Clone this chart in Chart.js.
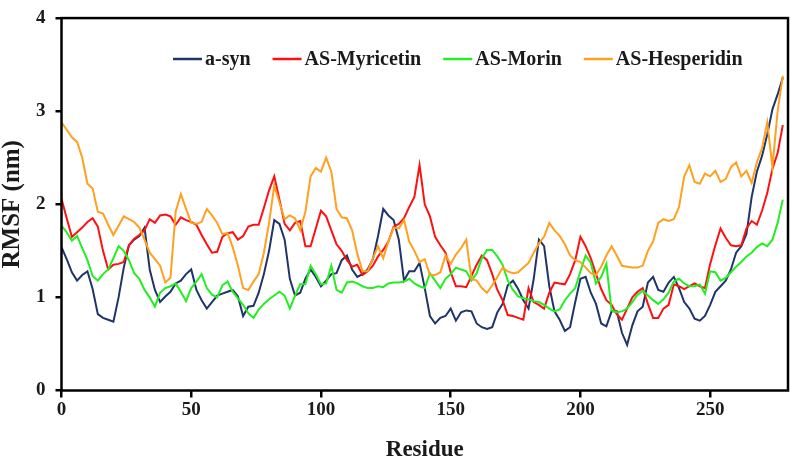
<!DOCTYPE html>
<html lang="en">
<head>
<meta charset="UTF-8">
<title>RMSF per residue</title>
<script src="https://cdn.jsdelivr.net/npm/chart.js"></script>
<style>
  html, body { margin: 0; padding: 0; background: #fff; }
  canvas { display: block; }
</style>
</head>
<body>
<canvas id="rmsfChart" width="790" height="462"></canvas>
<script>
// residue numbers (every 2nd residue)
const residues = [
  0, 2, 4, 6, 8, 10, 12, 14, 16, 18, 20, 22, 24, 26, 28, 30, 32, 34, 36, 38,
  40, 42, 44, 46, 48, 50, 52, 54, 56, 58, 60, 62, 64, 66, 68, 70, 72, 74, 76, 78,
  80, 82, 84, 86, 88, 90, 92, 94, 96, 98, 100, 102, 104, 106, 108, 110, 112, 114, 116, 118,
  120, 122, 124, 126, 128, 130, 132, 134, 136, 138, 140, 142, 144, 146, 148, 150, 152, 154, 156, 158,
  160, 162, 164, 166, 168, 170, 172, 174, 176, 178, 180, 182, 184, 186, 188, 190, 192, 194, 196, 198,
  200, 202, 204, 206, 208, 210, 212, 214, 216, 218, 220, 222, 224, 226, 228, 230, 232, 234, 236, 238,
  240, 242, 244, 246, 248, 250, 252, 254, 256, 258, 260, 262, 264, 266, 268, 270, 272, 274, 276, 278
];

// RMSF (nm)
const asyn = [
  1.54, 1.41, 1.27, 1.18, 1.24, 1.28, 1.09, 0.82, 0.78, 0.76,
  0.74, 1.00, 1.32, 1.56, 1.62, 1.66, 1.75, 1.30, 1.08, 0.95,
  1.01, 1.06, 1.15, 1.18, 1.25, 1.30, 1.08, 0.97, 0.88, 0.95,
  1.02, 1.04, 1.06, 1.08, 1.01, 0.80, 0.90, 0.91, 1.05, 1.25,
  1.50, 1.83, 1.79, 1.62, 1.20, 1.02, 1.05, 1.20, 1.30, 1.22,
  1.12, 1.18, 1.25, 1.26, 1.40, 1.45, 1.30, 1.22, 1.25, 1.30,
  1.41, 1.66, 1.95, 1.88, 1.83, 1.62, 1.18, 1.28, 1.28, 1.37,
  1.10, 0.80, 0.72, 0.78, 0.80, 0.88, 0.75, 0.84, 0.86, 0.85,
  0.72, 0.68, 0.66, 0.68, 0.84, 0.93, 1.13, 1.18, 1.09, 0.97,
  0.88, 1.20, 1.62, 1.55, 1.12, 0.85, 0.76, 0.64, 0.68, 0.95,
  1.20, 1.22, 1.05, 0.93, 0.72, 0.69, 0.85, 0.85, 0.62, 0.49,
  0.70, 0.85, 0.90, 1.16, 1.22, 1.08, 1.06, 1.16, 1.22, 1.10,
  0.95, 0.88, 0.77, 0.75, 0.80, 0.92, 1.06, 1.12, 1.18, 1.30,
  1.48, 1.55, 1.68, 2.08, 2.35, 2.52, 2.75, 3.02, 3.18, 3.36
];
const myricetin = [
  2.06, 1.85, 1.65, 1.70, 1.75, 1.81, 1.85, 1.76, 1.50, 1.30,
  1.35, 1.36, 1.38, 1.56, 1.63, 1.67, 1.72, 1.84, 1.80, 1.88,
  1.89, 1.87, 1.78, 1.86, 1.83, 1.81, 1.78, 1.67, 1.57, 1.48,
  1.49, 1.65, 1.69, 1.70, 1.62, 1.66, 1.76, 1.78, 1.78, 1.96,
  2.15, 2.30, 2.05, 1.79, 1.72, 1.80, 1.82, 1.55, 1.55, 1.74,
  1.93, 1.87, 1.72, 1.57, 1.50, 1.40, 1.33, 1.35, 1.24, 1.28,
  1.34, 1.44, 1.51, 1.60, 1.76, 1.79, 1.85, 1.97, 2.08, 2.42,
  2.00, 1.87, 1.65, 1.56, 1.48, 1.27, 1.12, 1.12, 1.11, 1.23,
  1.35, 1.45, 1.40, 1.25, 1.08, 0.97, 0.81, 0.80, 0.78, 0.76,
  1.10, 0.95, 0.92, 0.88, 1.05, 1.16, 1.15, 1.14, 1.25, 1.40,
  1.65, 1.55, 1.42, 1.25, 1.09, 0.97, 0.92, 0.82, 0.76, 0.88,
  1.00, 1.06, 1.10, 0.93, 0.78, 0.78, 0.88, 0.92, 1.14, 1.12,
  1.09, 1.12, 1.15, 1.12, 1.10, 1.36, 1.56, 1.74, 1.64, 1.56,
  1.55, 1.56, 1.74, 1.82, 1.78, 1.93, 2.12, 2.38, 2.55, 2.85
];
const morin = [
  1.77, 1.70, 1.61, 1.66, 1.53, 1.40, 1.23, 1.18, 1.25, 1.30,
  1.42, 1.55, 1.50, 1.40, 1.26, 1.20, 1.08, 1.00, 0.90, 1.05,
  1.10, 1.12, 1.15, 1.06, 0.96, 1.10, 1.17, 1.25, 1.10, 1.03,
  1.00, 1.13, 1.17, 1.06, 0.99, 0.92, 0.83, 0.78, 0.87, 0.93,
  0.98, 1.02, 1.06, 1.02, 0.88, 1.02, 1.14, 1.14, 1.34, 1.25,
  1.14, 1.15, 1.34, 1.08, 1.05, 1.16, 1.17, 1.15, 1.12, 1.10,
  1.10, 1.12, 1.11, 1.15, 1.16, 1.16, 1.17, 1.20, 1.15, 1.12,
  1.10, 1.26, 1.18, 1.10, 1.20, 1.25, 1.32, 1.30, 1.28, 1.18,
  1.26, 1.42, 1.51, 1.51, 1.44, 1.35, 1.18, 1.08, 1.01, 0.99,
  0.98, 0.96, 0.95, 0.92, 0.88, 0.85, 0.87, 0.97, 1.04, 1.10,
  1.28, 1.45, 1.37, 1.15, 1.22, 1.36, 0.86, 0.84, 0.85, 0.88,
  0.95, 1.03, 1.07, 1.02, 0.97, 0.93, 0.98, 1.05, 1.17, 1.20,
  1.15, 1.12, 1.12, 1.14, 1.04, 1.28, 1.27, 1.18, 1.21, 1.27,
  1.33, 1.38, 1.44, 1.48, 1.54, 1.58, 1.55, 1.62, 1.80, 2.05
];
const hesperidin = [
  2.88, 2.80, 2.72, 2.67, 2.50, 2.22, 2.17, 1.92, 1.90, 1.78,
  1.67, 1.77, 1.87, 1.84, 1.81, 1.75, 1.62, 1.48, 1.41, 1.34,
  1.16, 1.21, 1.92, 2.11, 1.95, 1.80, 1.79, 1.81, 1.95, 1.88,
  1.80, 1.68, 1.69, 1.54, 1.34, 1.10, 1.08, 1.17, 1.25, 1.48,
  1.80, 2.20, 2.02, 1.84, 1.88, 1.85, 1.72, 1.92, 2.30, 2.39,
  2.35, 2.50, 2.35, 1.95, 1.86, 1.85, 1.72, 1.47, 1.28, 1.28,
  1.42, 1.55, 1.42, 1.60, 1.75, 1.74, 1.83, 1.60, 1.50, 1.38,
  1.41, 1.24, 1.24, 1.27, 1.45, 1.36, 1.46, 1.53, 1.62, 1.20,
  1.18, 1.10, 1.05, 1.13, 1.22, 1.32, 1.28, 1.26, 1.27, 1.32,
  1.37, 1.48, 1.58, 1.65, 1.80, 1.72, 1.66, 1.57, 1.45, 1.40,
  1.38, 1.32, 1.26, 1.24, 1.33, 1.45, 1.55, 1.45, 1.34, 1.33,
  1.32, 1.32, 1.34, 1.50, 1.60, 1.80, 1.84, 1.82, 1.84, 1.97,
  2.30, 2.42, 2.24, 2.22, 2.33, 2.30, 2.36, 2.24, 2.27, 2.40,
  2.45, 2.30, 2.36, 2.23, 2.45, 2.60, 2.88, 2.40, 3.00, 3.38
];

const seriesNames = ['a-syn', 'AS-Myricetin', 'AS-Morin', 'AS-Hesperidin'];
const seriesColors = ['#1f3468', '#ff1010', '#22ee22', '#ffa020'];
const seriesValues = [asyn, myricetin, morin, hesperidin];

const serif = '"Liberation Serif", "Times New Roman", serif';

function toPoints(vals) {
  return vals.map((v, i) => ({ x: residues[i], y: v }));
}

// legend sits inside the plot, top left
const insideLegend = {
  id: 'insideLegend',
  afterDraw(chart) {
    const ctx = chart.ctx;
    ctx.save();
    ctx.font = 'bold 20px ' + serif;
    ctx.textBaseline = 'middle';
    let x = 173;
    const y = 59;
    seriesNames.forEach((name, i) => {
      ctx.strokeStyle = seriesColors[i];
      ctx.lineWidth = 2.5;
      ctx.beginPath();
      ctx.moveTo(x, y);
      ctx.lineTo(x + 29, y);
      ctx.stroke();
      x += 32;
      ctx.fillStyle = '#1a1a1a';
      ctx.fillText(name, x, y + 1);
      x += ctx.measureText(name).width + 22;
    });
    ctx.restore();
  }
};

// black box round the plot
const plotFrame = {
  id: 'plotFrame',
  afterDatasetsDraw(chart) {
    const a = chart.chartArea;
    const ctx = chart.ctx;
    ctx.save();
    ctx.strokeStyle = '#000';
    ctx.lineWidth = 2.5;
    ctx.strokeRect(a.left, a.top, a.right - a.left, a.bottom - a.top);
    ctx.restore();
  }
};

const ctx = document.getElementById('rmsfChart').getContext('2d');
new Chart(ctx, {
  type: 'line',
  data: {
    datasets: seriesNames.map((name, i) => ({
      label: name,
      data: toPoints(seriesValues[i]),
      borderColor: seriesColors[i],
      backgroundColor: seriesColors[i],
      borderWidth: 2,
      pointRadius: 0,
      tension: 0,
      fill: false,
      order: seriesNames.length - i
    }))
  },
  options: {
    responsive: false,
    animation: false,
    devicePixelRatio: 1,
    layout: { padding: { top: 8.5, right: 2, left: 0, bottom: 0 } },
    plugins: {
      legend: { display: false },
      tooltip: { enabled: false }
    },
    scales: {
      x: {
        type: 'linear',
        min: 0,
        max: 280,
        afterFit: s => { s.height = 71.5; },
        border: { display: false },
        grid: { drawOnChartArea: false, drawTicks: true, tickLength: 7, color: '#000', lineWidth: 2.5 },
        ticks: {
          stepSize: 50,
          includeBounds: false,
          maxRotation: 0,
          padding: 3,
          color: '#1a1a1a',
          font: { family: serif, size: 19, weight: 'bold', lineHeight: 1 }
        },
        title: {
          display: true,
          text: 'Residue',
          color: '#1a1a1a',
          padding: { top: 0, bottom: 0 },
          font: { family: serif, size: 23, weight: 'bold', lineHeight: 1 }
        }
      },
      y: {
        min: 0,
        max: 4,
        afterFit: s => { s.width = 61.5; },
        border: { display: false },
        grid: { drawOnChartArea: false, drawTicks: true, tickLength: 6, color: '#000', lineWidth: 2.5 },
        ticks: {
          stepSize: 1,
          padding: 10,
          color: '#1a1a1a',
          font: { family: serif, size: 19, weight: 'bold', lineHeight: 0.85 }
        },
        title: {
          display: true,
          text: 'RMSF (nm)',
          color: '#1a1a1a',
          padding: { top: 0, bottom: 0 },
          font: { family: serif, size: 25, weight: 'bold', lineHeight: 1 }
        }
      }
    }
  },
  plugins: [plotFrame, insideLegend]
});
</script>
</body>
</html>
